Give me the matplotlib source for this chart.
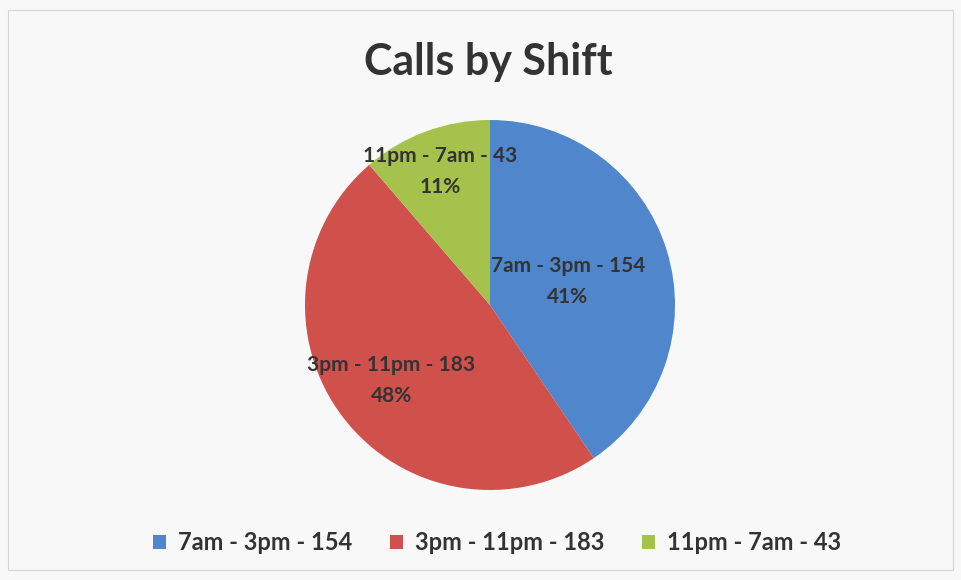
import numpy as np
import matplotlib.pyplot as plt
from matplotlib.patches import Rectangle

# data
shifts = ['7am - 3pm', '3pm - 11pm', '11pm - 7am']
calls = [154, 183, 43]
colors = ['#4F86CC', '#D0504C', '#A5C24C']
label_dist = [0.44, 0.67, 0.77]   # where the data labels sit (fraction of radius)

plt.rcParams['font.family'] = ['Lato', 'DejaVu Sans']
txt = '#333333'

fig = plt.figure(figsize=(9.61, 5.80), dpi=100, facecolor='#f8f8f8')
# faint chart-area border
fig.patches.append(Rectangle((8/961, 10/580), 945/961, 560/580, transform=fig.transFigure,
                             fill=False, edgecolor='#d4d4d4', linewidth=0.8))

ax = fig.add_axes([(490-185)/961, 1-(305+185)/580, 370/961, 370/580])
ax.set_facecolor('none')

wedges, _ = ax.pie(calls, colors=colors, startangle=90, counterclock=False,
                   wedgeprops=dict(linewidth=0))
ax.set_xlim(-1, 1)
ax.set_ylim(-1, 1)
ax.set_aspect('equal')

total = sum(calls)
for w, name, n, d in zip(wedges, shifts, calls, label_dist):
    ang = np.deg2rad((w.theta1 + w.theta2) / 2)
    ax.text(d*np.cos(ang), d*np.sin(ang), f'{name} - {n}\n{n/total*100:.0f}%',
            ha='center', va='center', fontsize=15, fontweight='bold', color=txt,
            linespacing=1.7)

fig.text(488/961, 1-62/580, 'Calls by Shift', ha='center', va='center',
         fontsize=31, fontweight='bold', color=txt)

leg = fig.legend(wedges, [f'{s} - {n}' for s, n in zip(shifts, calls)],
                 loc='center', bbox_to_anchor=(497/961, 1-543/580), ncol=3,
                 frameon=False, fontsize=17, handlelength=0.55, handleheight=0.55,
                 handletextpad=0.5, columnspacing=1.6)
for t in leg.get_texts():
    t.set_color(txt)
    t.set_fontweight('bold')

fig.savefig('out.png', dpi=100, facecolor=fig.get_facecolor())
